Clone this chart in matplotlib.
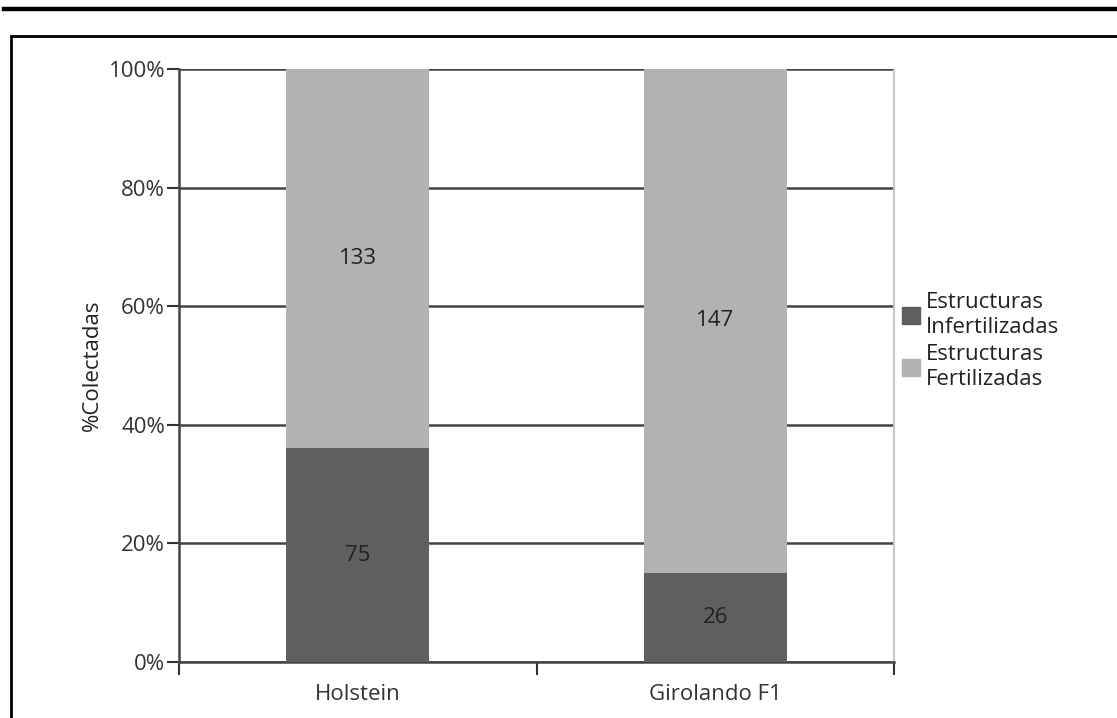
import matplotlib.pyplot as plt
from matplotlib.lines import Line2D
from matplotlib.patches import Rectangle, Patch

plt.rcParams['font.family'] = ['Open Sans', 'DejaVu Sans']

# Data
categories = ["Holstein", "Girolando F1"]
infertile = [75, 26]
fertile = [133, 147]
series_names = ["Estructuras\nInfertilizadas", "Estructuras\nFertilizadas"]
dark = "#5f5f5f"
light = "#b2b2b2"

W, H = 1117, 718
fs = 16
fig = plt.figure(figsize=(W / 100, H / 100), dpi=100)

# page lines and outer frame
fig.add_artist(Line2D([4 / W, 1], [1 - 9 / H, 1 - 9 / H], color="black", lw=3.2,
                      transform=fig.transFigure))
fig.add_artist(Rectangle((11 / W, -0.05), 1.2, 1.05 - 36 / H, fill=False,
                         edgecolor="black", lw=2, transform=fig.transFigure))

ax = fig.add_axes([179 / W, (H - 662) / H, (894 - 179) / W, (662 - 69) / H])

totals = [a + b for a, b in zip(infertile, fertile)]
p_inf = [a / t * 100 for a, t in zip(infertile, totals)]
p_fer = [b / t * 100 for b, t in zip(fertile, totals)]
x = range(len(categories))

ax.bar(x, p_inf, width=0.4, color=dark, zorder=3, label=series_names[0])
ax.bar(x, p_fer, width=0.4, bottom=p_inf, color=light, zorder=3, label=series_names[1])

for i in x:
    ax.text(i, p_inf[i] / 2, str(infertile[i]), ha="center", va="center",
            fontsize=fs, color="#222222", zorder=4)
    ax.text(i, p_inf[i] + p_fer[i] / 2, str(fertile[i]), ha="center", va="center",
            fontsize=fs, color="#222222", zorder=4)

ax.set_xlim(-0.5, 1.5)
ax.set_ylim(0, 100)
ax.set_yticks(range(0, 101, 20))
ax.set_yticklabels([f"{v}%" for v in range(0, 101, 20)])
ax.yaxis.grid(True, color="#444444", lw=1.8, zorder=1)
ax.set_xticks(list(x))
ax.set_xticklabels(categories)
ax.set_xticks([-0.5, 0.5, 1.5], minor=True)
ax.tick_params(axis="x", which="major", length=0, pad=16)
ax.tick_params(axis="x", which="minor", length=9, width=1.5, color="#333333")
ax.tick_params(axis="y", length=9, width=1.5, color="#333333", pad=1)
ax.tick_params(labelsize=fs, labelcolor="#333333")

for s in ["left", "bottom"]:
    ax.spines[s].set_color("#444444")
    ax.spines[s].set_linewidth(1.8)
ax.spines["top"].set_visible(False)
ax.spines["right"].set_color("#c8c8c8")
ax.spines["right"].set_linewidth(1.5)

ax.set_ylabel("%Colectadas", fontsize=fs, color="#222222", labelpad=4)

handles = [Patch(color=dark), Patch(color=light)]
fig.legend(handles, series_names, loc="center left",
           bbox_to_anchor=(893 / W, 1 - 341 / H), frameon=False, fontsize=fs,
           handlelength=0.8, handleheight=0.8, handletextpad=0.3, labelspacing=0.3,
           labelcolor="#222222", borderaxespad=0)

fig.savefig("out.png", dpi=100)
